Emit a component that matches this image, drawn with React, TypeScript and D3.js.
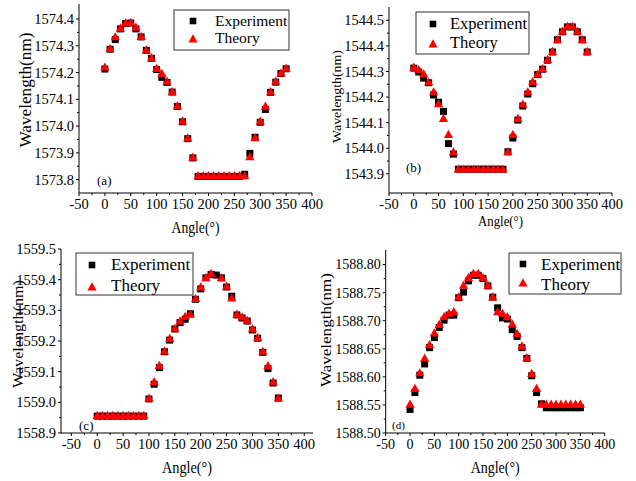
import React from "react";
import * as d3 from "d3";

// angle samples (degrees), shared by all four panels
const ANGLES = [0, 10, 20, 30, 40, 50, 60, 70, 80, 90, 100, 110, 120, 130, 140, 150, 160, 170,
  180, 190, 200, 210, 220, 230, 240, 250, 260, 270, 280, 290, 300, 310, 320, 330, 340, 350];

// (a)
const A_EXP = [1574.213, 1574.287, 1574.323, 1574.363, 1574.383, 1574.385, 1574.363, 1574.333, 1574.283,
  1574.253, 1574.211, 1574.182, 1574.163, 1574.127, 1574.073, 1574.016, 1573.953, 1573.881,
  1573.812, 1573.812, 1573.812, 1573.812, 1573.812, 1573.812, 1573.812, 1573.812, 1573.812,
  1573.820, 1573.898, 1573.958, 1574.014, 1574.062, 1574.126, 1574.164, 1574.196, 1574.214];
const A_THEORY = [1574.220, 1574.289, 1574.333, 1574.366, 1574.385, 1574.387, 1574.369, 1574.334, 1574.284,
  1574.255, 1574.215, 1574.196, 1574.167, 1574.128, 1574.076, 1574.019, 1573.955, 1573.883,
  1573.814, 1573.814, 1573.814, 1573.814, 1573.814, 1573.814, 1573.814, 1573.814, 1573.814,
  1573.814, 1573.885, 1573.956, 1574.018, 1574.074, 1574.128, 1574.167, 1574.198, 1574.216];

// (b)
const B_EXP = [1544.313, 1544.298, 1544.274, 1544.256, 1544.208, 1544.180, 1544.144, 1544.018, 1543.977,
  1543.918, 1543.918, 1543.918, 1543.918, 1543.918, 1543.918, 1543.918, 1543.918, 1543.918, 1543.918,
  1543.986, 1544.040, 1544.110, 1544.165, 1544.212, 1544.252, 1544.288, 1544.309, 1544.344,
  1544.376, 1544.424, 1544.455, 1544.474, 1544.474, 1544.455, 1544.424, 1544.376];
const B_THEORY = [1544.316, 1544.307, 1544.290, 1544.258, 1544.220, 1544.173, 1544.116, 1544.053, 1543.985,
  1543.918, 1543.918, 1543.918, 1543.918, 1543.918, 1543.918, 1543.918, 1543.918, 1543.918, 1543.918,
  1543.986, 1544.053, 1544.116, 1544.172, 1544.220, 1544.260, 1544.290, 1544.310, 1544.346,
  1544.378, 1544.424, 1544.457, 1544.476, 1544.476, 1544.457, 1544.424, 1544.378];

// (c)
const C_EXP = [1558.955, 1558.955, 1558.955, 1558.955, 1558.955, 1558.955, 1558.955, 1558.955, 1558.955,
  1558.955, 1559.011, 1559.059, 1559.113, 1559.165, 1559.203, 1559.239, 1559.260, 1559.271,
  1559.289, 1559.336, 1559.370, 1559.406, 1559.417, 1559.415, 1559.406, 1559.376, 1559.346,
  1559.285, 1559.275, 1559.265, 1559.236, 1559.209, 1559.163, 1559.110, 1559.063, 1559.014];
const C_THEORY = [1558.957, 1558.957, 1558.957, 1558.957, 1558.957, 1558.957, 1558.957, 1558.957, 1558.957,
  1558.957, 1559.013, 1559.067, 1559.120, 1559.167, 1559.208, 1559.241, 1559.265, 1559.280,
  1559.287, 1559.338, 1559.376, 1559.407, 1559.420, null, 1559.406, 1559.378, 1559.340,
  1559.287, 1559.278, 1559.267, 1559.240, 1559.211, 1559.166, 1559.119, 1559.067, 1559.014];

// (d)
const D_EXP = [1588.542, 1588.572, 1588.603, 1588.623, 1588.652, 1588.670, 1588.688, 1588.701, 1588.710,
  1588.710, 1588.741, 1588.751, 1588.771, 1588.781, 1588.781, 1588.775, 1588.762, 1588.742,
  1588.723, 1588.705, 1588.703, 1588.684, 1588.672, 1588.652, 1588.633, 1588.602, 1588.572,
  1588.552, 1588.545, 1588.545, 1588.545, 1588.545, 1588.545, 1588.545, 1588.545, 1588.545];
const D_THEORY = [1588.551, 1588.579, 1588.607, 1588.633, 1588.657, 1588.678, 1588.693, 1588.707, 1588.713,
  1588.716, 1588.742, 1588.763, 1588.777, 1588.784, 1588.784, 1588.777, 1588.763, 1588.742,
  1588.716, 1588.713, 1588.707, 1588.694, 1588.677, 1588.655, 1588.634, 1588.606, 1588.579,
  1588.551, 1588.551, 1588.551, 1588.551, 1588.551, 1588.551, 1588.551, 1588.551, 1588.551];

// tick labels
const X_TICKS = [-50, 0, 50, 100, 150, 200, 250, 300, 350, 400];
const A_TICKS = [1573.8, 1573.9, 1574.0, 1574.1, 1574.2, 1574.3, 1574.4];
const B_TICKS = [1543.9, 1544.0, 1544.1, 1544.2, 1544.3, 1544.4, 1544.5];
const C_TICKS = [1558.9, 1559.0, 1559.1, 1559.2, 1559.3, 1559.4, 1559.5];
const D_TICKS = [1588.50, 1588.55, 1588.60, 1588.65, 1588.70, 1588.75, 1588.80];

const FONT = '"Liberation Serif", "Times New Roman", serif';
const RED = "#ff0000";

// panel geometry
const PANELS = [
  { key: "a", exp: A_EXP, theory: A_THEORY, yTicks: A_TICKS, fmt: ".1f",
    left: 79, right: 312, top: 4, bottom: 193, xDomain: [-50, 400], yDomain: [1573.75, 1574.456],
    tickSize: 14.5, titleX: { y: 233, len: 48, size: 17 }, titleY: { x: 31, cy: 90, len: 115, size: 16.5 },
    legend: { x: 174, y: 10, w: 115, h: 40, mx: 193, my1: 21, my2: 39, tx: 215, ty1: 26, ty2: 43, size: 15.5 },
    tag: { x: 97, y: 185, size: 13 } },
  { key: "b", exp: B_EXP, theory: B_THEORY, yTicks: B_TICKS, fmt: ".1f",
    left: 389, right: 612, top: 7, bottom: 193, xDomain: [-50, 400], yDomain: [1543.825, 1544.552],
    tickSize: 14.5, titleX: { y: 226, len: 45, size: 15 }, titleY: { x: 341, cy: 96.5, len: 93, size: 13.5 },
    legend: { x: 416, y: 12, w: 113, h: 42, mx: 433, my1: 24, my2: 44, tx: 450, ty1: 29, ty2: 48, size: 16.5 },
    tag: { x: 406, y: 172, size: 13 } },
  { key: "c", exp: C_EXP, theory: C_THEORY, yTicks: C_TICKS, fmt: ".1f",
    left: 61, right: 313, top: 249, bottom: 433, xDomain: [-70, 417], yDomain: [1558.9, 1559.5],
    tickSize: 14.5, titleX: { y: 473, len: 50, size: 16 }, titleY: { x: 23, cy: 334, len: 108, size: 14 },
    legend: { x: 76, y: 253, w: 117, h: 42, mx: 92, my1: 265, my2: 287, tx: 111, ty1: 270, ty2: 291, size: 17 },
    tag: { x: 79, y: 430, size: 13 } },
  { key: "d", exp: D_EXP, theory: D_THEORY, yTicks: D_TICKS, fmt: ".2f",
    left: 385.7, right: 604.7, top: 250, bottom: 433, xDomain: [-50, 400], yDomain: [1588.5, 1588.826],
    tickSize: 14, titleX: { y: 473, len: 49, size: 16 }, titleY: { x: 331, cy: 330, len: 114, size: 14 },
    legend: { x: 509, y: 253, w: 112, h: 41, mx: 523, my1: 264, my2: 283, tx: 541, ty1: 270, ty2: 290, size: 17 },
    tag: { x: 392, y: 429, size: 11 } },
];

const tri = (cx: number, cy: number) =>
  `M${cx},${cy - 4.8}L${cx + 4.6},${cy + 3.4}L${cx - 4.6},${cy + 3.4}Z`;

function Panel({ p }: { p: any }) {
  const x = d3.scaleLinear().domain(p.xDomain).range([p.left, p.right]);
  const y = d3.scaleLinear().domain(p.yDomain).range([p.bottom, p.top]);
  const fmt = d3.format(p.fmt);
  const xMinor = X_TICKS.slice(1).map((t, i) => (t + X_TICKS[i]) / 2);
  const yMinor = p.yTicks.slice(1).map((t: number, i: number) => (t + p.yTicks[i]) / 2);
  const lg = p.legend;

  return (
    <g fontFamily={FONT} fill="#000">
      {/* axes */}
      <line x1={p.left} x2={p.left} y1={p.top} y2={p.bottom} stroke="#000" strokeWidth={1} />
      <line x1={p.left} x2={p.right} y1={p.bottom} y2={p.bottom} stroke="#000" strokeWidth={1} />

      {X_TICKS.map((t) => (
        <g key={"xt" + t}>
          <line x1={x(t)} x2={x(t)} y1={p.bottom} y2={p.bottom + 3} stroke="#000" />
          <text x={x(t)} y={p.bottom + 16} textAnchor="middle" fontSize={p.tickSize}>{t}</text>
        </g>
      ))}
      {xMinor.map((t) => (
        <line key={"xm" + t} x1={x(t)} x2={x(t)} y1={p.bottom} y2={p.bottom + 2} stroke="#000" />
      ))}
      {p.yTicks.map((t: number) => (
        <g key={"yt" + t}>
          <line x1={p.left - 3} x2={p.left} y1={y(t)} y2={y(t)} stroke="#000" />
          <text x={p.left - 5} y={y(t)} dy="0.35em" textAnchor="end" fontSize={p.tickSize}>{fmt(t)}</text>
        </g>
      ))}
      {yMinor.map((t: number) => (
        <line key={"ym" + t} x1={p.left - 2} x2={p.left} y1={y(t)} y2={y(t)} stroke="#000" />
      ))}

      {/* axis titles */}
      <text x={(p.left + p.right) / 2} y={p.titleX.y} textAnchor="middle" fontSize={p.titleX.size}
        textLength={p.titleX.len} lengthAdjust="spacingAndGlyphs">Angle(°)</text>
      <text transform={`translate(${p.titleY.x},${p.titleY.cy}) rotate(-90)`} textAnchor="middle"
        fontSize={p.titleY.size} textLength={p.titleY.len} lengthAdjust="spacingAndGlyphs">Wavelength(nm)</text>

      {/* data */}
      {ANGLES.map((a, i) =>
        p.exp[i] == null ? null : (
          <rect key={"e" + a} x={x(a) - 3.5} y={y(p.exp[i]) - 3.5} width={7} height={7} fill="#000" />
        )
      )}
      {ANGLES.map((a, i) =>
        p.theory[i] == null ? null : <path key={"t" + a} d={tri(x(a), y(p.theory[i]))} fill={RED} />
      )}

      {/* legend */}
      <rect x={lg.x} y={lg.y} width={lg.w} height={lg.h} fill="#fff" stroke="#333" strokeWidth={1} />
      <rect x={lg.mx - 3.3} y={lg.my1 - 3.3} width={6.6} height={6.6} fill="#000" />
      <path d={tri(lg.mx, lg.my2)} fill={RED} />
      <text x={lg.tx} y={lg.ty1} fontSize={lg.size}>Experiment</text>
      <text x={lg.tx} y={lg.ty2} fontSize={lg.size}>Theory</text>

      <text x={p.tag.x} y={p.tag.y} fontSize={p.tag.size}>({p.key})</text>
    </g>
  );
}

export default function App() {
  return (
    <svg width={636} height={481} style={{ position: "absolute", left: 0, top: 0, background: "#fff" }}>
      <rect width={636} height={481} fill="#fff" />
      {PANELS.map((p) => (
        <Panel key={p.key} p={p} />
      ))}
    </svg>
  );
}
